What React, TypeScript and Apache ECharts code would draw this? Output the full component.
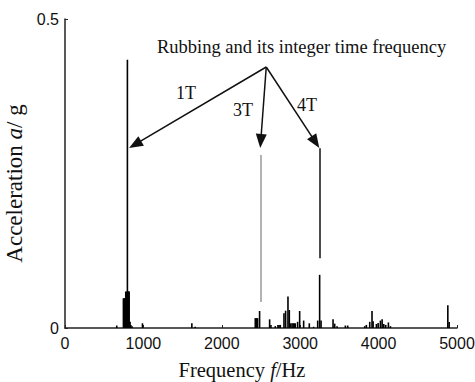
import React, { useEffect, useRef } from "react";
import * as echarts from "echarts";

// Spectrum lines: frequency (Hz) and acceleration amplitude (g)
const freqs = [
  660, 745, 755, 765, 775, 785, 796, 805, 812, 818, 830, 840, 855, 988,
  1618, 1660,
  2427, 2440, 2456, 2482, 2610, 2627, 2682, 2716, 2730, 2746, 2793, 2814, 2844, 2861, 2874,
  2895, 2910, 2925, 2937, 2967, 2993, 3044, 3116, 3171, 3223, 3248, 3266,
  3419, 3440, 3470, 3576, 3606, 3823, 3844, 3887, 3916, 3930, 3972, 3994, 4023, 4045,
  4066, 4091, 4125, 4151, 4883, 4900,
];
const amps = [
  0.004, 0.048, 0.048, 0.048, 0.059, 0.059, 0.434, 0.059, 0.059, 0.059, 0.01, 0.005, 0.003, 0.0076,
  0.0076, 0.002,
  0.016, 0.016, 0.016, 0.0275, 0.014, 0.005, 0.003, 0.005, 0.005, 0.005, 0.024, 0.028, 0.051, 0.029, 0.0076,
  0.0076, 0.0076, 0.0076, 0.0076, 0.01, 0.0275, 0.012, 0.0076, 0.002, 0.012, 0.086, 0.012,
  0.014, 0.007, 0.003, 0.004, 0.004, 0.003, 0.005, 0.01, 0.0275, 0.011, 0.0065, 0.008, 0.012, 0.014,
  0.0065, 0.005, 0.009, 0.003, 0.037, 0.0097,
];

// Harmonic marker segments [freq, from, to]
const harmonicLines = [
  { f: 2499, from: 0.042, to: 0.28, color: "#999999" },
  { f: 3248, from: 0.113, to: 0.291, color: "#111111" },
];

// Arrows from the annotation apex to each harmonic (arrowhead centres)
const arrowApex = [2567, 0.4223];
const arrowTips = [
  [894, 0.297],
  [2497, 0.3026],
  [3195, 0.3008],
];

const xTicks = [0, 1000, 2000, 3000, 4000, 5000];
const yTicks = [0, 0.5];

export default function App() {
  const ref = useRef<HTMLDivElement>(null);
  useEffect(() => {
    if (!ref.current) return;
    const chart = echarts.init(ref.current, null, { renderer: "svg" });
    const serif = "'Liberation Serif', 'Times New Roman', serif";
    const sans = "'Liberation Sans', Arial, sans-serif";
    chart.setOption({
      animation: false,
      backgroundColor: "#ffffff",
      grid: { left: 65, right: 18, top: 19, bottom: 54, outerBoundsMode: "none", containLabel: false },
      xAxis: {
        type: "value",
        min: xTicks[0],
        max: xTicks[xTicks.length - 1],
        interval: 1000,
        name: "Frequency {i|f}/Hz",
        nameLocation: "middle",
        nameGap: 31,
        nameTextStyle: {
          fontFamily: serif,
          fontSize: 20.5,
          color: "#111",
          padding: [0, 38, 0, 0],
          rich: { i: { fontFamily: serif, fontSize: 20.5, fontStyle: "italic", color: "#111" } },
        },
        axisLine: { lineStyle: { color: "#222", width: 1.5 } },
        axisTick: { inside: true, length: 3, lineStyle: { color: "#222" } },
        axisLabel: {
          fontFamily: sans,
          fontSize: 16,
          color: "#111",
          margin: 7,
          formatter: (v: number) => String(v),
        },
        splitLine: { show: false },
      },
      yAxis: {
        type: "value",
        min: yTicks[0],
        max: yTicks[yTicks.length - 1],
        interval: 0.5,
        name: "Acceleration {i|a}/ g",
        nameLocation: "middle",
        nameGap: 36,
        nameTextStyle: {
          fontFamily: serif,
          fontSize: 23,
          color: "#111",
          padding: [0, 20, 0, 0],
          rich: { i: { fontFamily: serif, fontSize: 23, fontStyle: "italic", color: "#111" } },
        },
        axisLine: { show: true, lineStyle: { color: "#222", width: 1.5 } },
        axisTick: { show: true, inside: true, length: 3, lineStyle: { color: "#222" } },
        axisLabel: {
          fontFamily: sans,
          fontSize: 16,
          color: "#111",
          margin: 6,
          formatter: (v: number) => String(v),
        },
        splitLine: { show: false },
      },
      series: [
        {
          type: "bar",
          data: freqs.map((f, i) => [f, amps[i]]),
          barWidth: 1.6,
          itemStyle: { color: "#000" },
          markLine: {
            silent: true,
            animation: false,
            label: { show: false },
            data: [
              ...harmonicLines.map((h) => [
                { coord: [h.f, h.from], symbol: "none", lineStyle: { color: h.color, width: 1.5, type: "solid" } },
                { coord: [h.f, h.to], symbol: "none" },
              ]),
              ...arrowTips.map((t) => [
                { coord: arrowApex, symbol: "none", lineStyle: { color: "#111", width: 1.5, type: "solid" } },
                { coord: t, symbol: "triangle", symbolSize: [11, 14] },
              ]),
            ],
            symbol: ["none", "triangle"],
            itemStyle: { color: "#111" },
          },
        },
      ],
      graphic: [
        {
          type: "text",
          left: 157,
          top: 37,
          style: { text: "Rubbing and its integer time frequency", font: `18.5px ${serif}`, fill: "#111" },
        },
        { type: "text", left: 176, top: 84, style: { text: "1T", font: `18px ${serif}`, fill: "#111" } },
        { type: "text", left: 233, top: 101, style: { text: "3T", font: `18px ${serif}`, fill: "#111" } },
        { type: "text", left: 297, top: 96, style: { text: "4T", font: `18px ${serif}`, fill: "#111" } },
      ],
    });
    return () => chart.dispose();
  }, []);
  return (
    <div
      ref={ref}
      style={{ position: "fixed", left: 0, top: 0, width: 475, height: 382 }}
    />
  );
}
